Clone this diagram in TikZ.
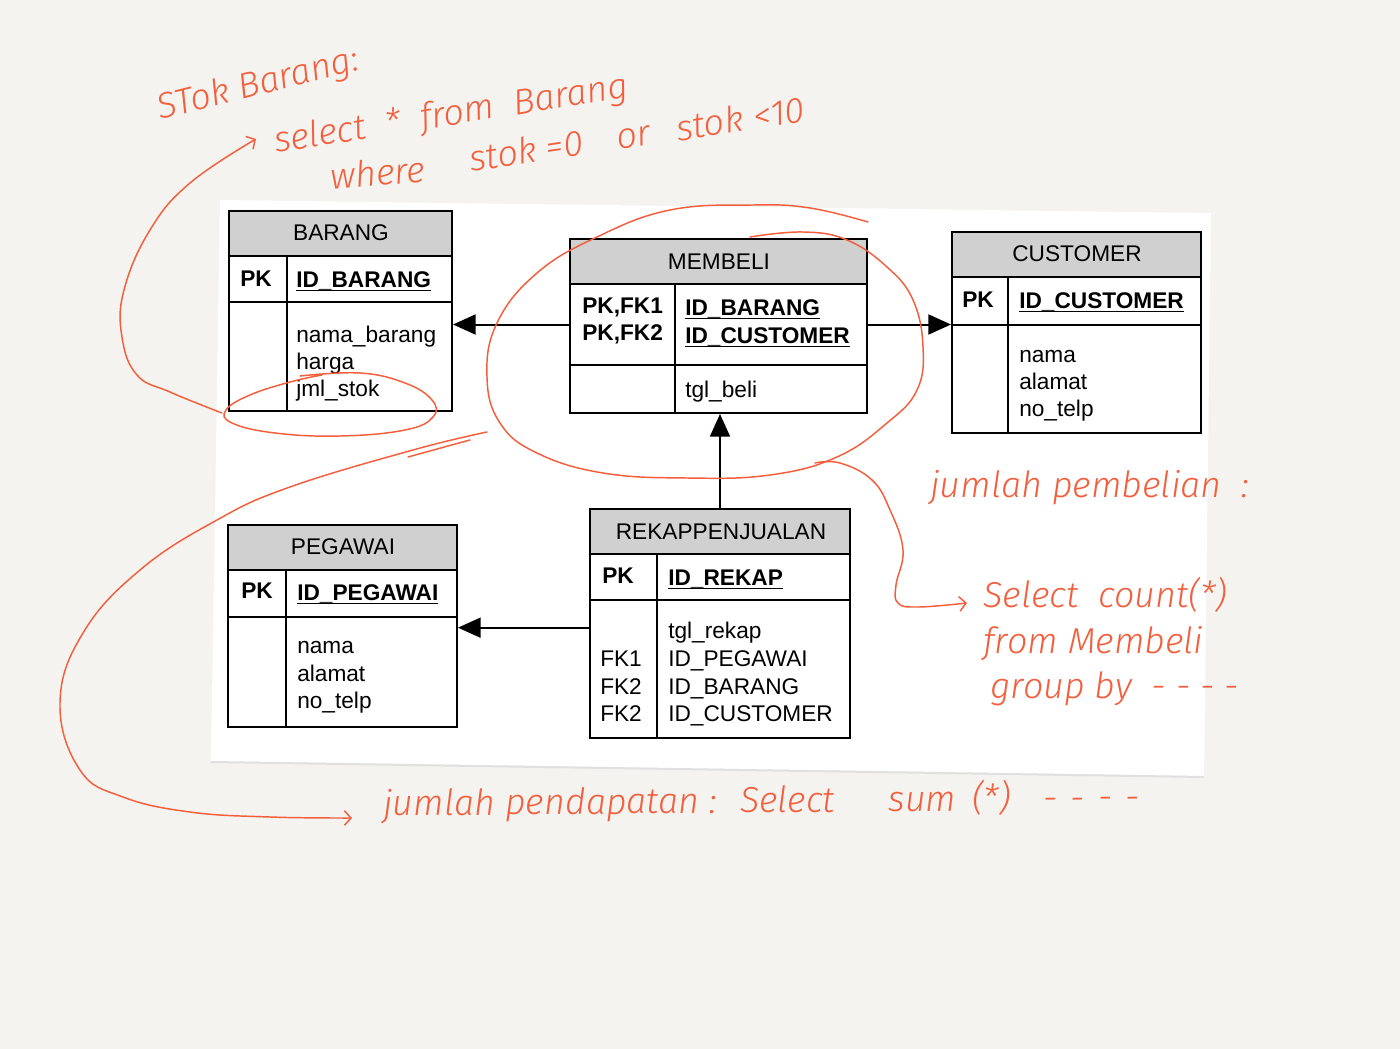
\documentclass[tikz,border=0pt]{standalone}
\usepackage{fontspec}
\setmainfont{Liberation Sans}
\newfontfamily\handfont{Fira Sans Light Italic}
\usetikzlibrary{arrows.meta,fit}

\definecolor{paperbg}{RGB}{244,243,239}
\definecolor{hdrgray}{RGB}{208,208,208}
\definecolor{inkorange}{RGB}{243,94,60}

\newsavebox\keybox
\newcommand{\keyattr}[1]{\sbox\keybox{\bfseries #1}\rlap{\rule[-3.3pt]{\wd\keybox}{1.4pt}}\usebox\keybox}

\tikzset{
  tbl/.style={draw, line width=1.5pt, inner sep=0pt},
  hdr/.style={tbl, fill=hdrgray},
  title/.style={inner sep=0pt, font=\fontsize{17}{20}\selectfont},
  fld/.style={anchor=base west, inner sep=0pt, font=\fontsize{17}{20}\selectfont},
  keyfld/.style={fld, font=\fontsize{17}{20}\selectfont\bfseries},
  fk/.style={line width=1.5pt, -{Triangle[length=17pt,width=15pt]}},
  ink/.style={draw=inkorange, line width=1.1pt, line cap=round, line join=round},
  inkarrow/.style={ink, -{Straight Barb[length=5pt,width=11pt]}},
  note/.style={anchor=base west, inner sep=0pt, text=inkorange, font=\handfont\fontsize{27}{30}\selectfont},
}

\begin{document}
\begin{tikzpicture}[x=0.75pt,y=0.75pt,yscale=-1,xscale=1]
\useasboundingbox (0,0) rectangle (1400,1049);
\fill[paperbg] (0,0) rectangle (1400,1049);

%Shape: Paper
\fill[white] (220,200) -- (1211,213) -- (1204,776) -- (211,761) -- cycle;
\draw[black!12, line width=1.5pt] (211,762) -- (1204,777);

%Table: BARANG
\node[hdr, fit={(229,211) (452,256)}] (barang-hdr) {};
\node[tbl, fit={(229,256) (452,302)}] (barang-key) {};
\node[tbl, fit={(229,302) (452,411)}] (barang-attr) {};
\draw[line width=1.5pt] (287,256) -- (287,411);
% Text Node
\node[title] (barang-title) at (341,233) {BARANG};
\node[keyfld] (barang-pk) at (240,286) {PK};
\node[fld] (barang-id) at (296,287) {\keyattr{ID\_BARANG}};
\node[fld] (barang-nama) at (296,342) {nama\_barang};
\node[fld] (barang-harga) at (296,369) {harga};
\node[fld] (barang-stok) at (296,396) {jml\_stok};

%Table: MEMBELI
\node[hdr, fit={(570,239) (867,284)}] (membeli-hdr) {};
\node[tbl, fit={(570,284) (867,365)}] (membeli-key) {};
\node[tbl, fit={(570,365) (867,413)}] (membeli-attr) {};
\draw[line width=1.5pt] (675,284) -- (675,413);
% Text Node
\node[title] (membeli-title) at (719,262) {MEMBELI};
\node[keyfld] (membeli-fk1) at (582,313) {PK,FK1};
\node[keyfld] (membeli-fk2) at (582,340) {PK,FK2};
\node[fld] (membeli-id1) at (685,315) {\keyattr{ID\_BARANG}};
\node[fld] (membeli-id2) at (685,343) {\keyattr{ID\_CUSTOMER}};
\node[fld] (membeli-tgl) at (685,397) {tgl\_beli};

%Table: CUSTOMER
\node[hdr, fit={(952,232) (1201,277)}] (customer-hdr) {};
\node[tbl, fit={(952,277) (1201,325)}] (customer-key) {};
\node[tbl, fit={(952,325) (1201,433)}] (customer-attr) {};
\draw[line width=1.5pt] (1008,277) -- (1008,433);
% Text Node
\node[title] (customer-title) at (1077,254) {CUSTOMER};
\node[keyfld] (customer-pk) at (962,307) {PK};
\node[fld] (customer-id) at (1019,308) {\keyattr{ID\_CUSTOMER}};
\node[fld] (customer-nama) at (1019,362) {nama};
\node[fld] (customer-alamat) at (1019,389) {alamat};
\node[fld] (customer-telp) at (1019,416) {no\_telp};

%Table: REKAPPENJUALAN
\node[hdr, fit={(590,509) (850,554)}] (rekap-hdr) {};
\node[tbl, fit={(590,554) (850,600)}] (rekap-key) {};
\node[tbl, fit={(590,600) (850,738)}] (rekap-attr) {};
\draw[line width=1.5pt] (657,554) -- (657,738);
% Text Node
\node[title] (rekap-title) at (721,532) {REKAPPENJUALAN};
\node[keyfld] (rekap-pk) at (602,583) {PK};
\node[fld] (rekap-id) at (668,585) {\keyattr{ID\_REKAP}};
\node[fld] (rekap-tgl) at (668,638) {tgl\_rekap};
\node[fld] (rekap-peg) at (668,666) {ID\_PEGAWAI};
\node[fld] (rekap-brg) at (668,694) {ID\_BARANG};
\node[fld] (rekap-cus) at (668,721) {ID\_CUSTOMER};
\node[fld] (rekap-fk1) at (600,666) {FK1};
\node[fld] (rekap-fk2) at (600,694) {FK2};
\node[fld] (rekap-fk3) at (600,721) {FK2};

%Table: PEGAWAI
\node[hdr, fit={(228,525) (457,570)}] (pegawai-hdr) {};
\node[tbl, fit={(228,570) (457,617)}] (pegawai-key) {};
\node[tbl, fit={(228,617) (457,727)}] (pegawai-attr) {};
\draw[line width=1.5pt] (286,570) -- (286,727);
% Text Node
\node[title] (pegawai-title) at (343,547) {PEGAWAI};
\node[keyfld] (pegawai-pk) at (241,598) {PK};
\node[fld] (pegawai-id) at (297,600) {\keyattr{ID\_PEGAWAI}};
\node[fld] (pegawai-nama) at (297,653) {nama};
\node[fld] (pegawai-alamat) at (297,681) {alamat};
\node[fld] (pegawai-telp) at (297,708) {no\_telp};

%Relations
\draw[fk] (membeli-key.west) -- (membeli-key.west -| barang-attr.east);
\draw[fk] (membeli-key.east) -- (membeli-key.east -| customer-attr.west);
\draw[fk] (rekap-hdr.north) -- (rekap-hdr.north |- membeli-attr.south);
\draw[fk] ([yshift=-31pt]rekap-attr.west) -- ([yshift=-31pt]rekap-attr.west -| pegawai-attr.east);

%Sketch: ring round jml_stok
\draw[ink] plot[smooth, tension=0.7] coordinates {(300,376) (360,373) (405,383) (432,400) (433,417) (405,430) (340,436) (275,433) (232,423) (226,410) (250,395) (290,382) (322,375)};
\draw[inkarrow] plot[smooth, tension=0.7] coordinates {(222,413) (170,392) (137,375) (122,337) (124,290) (150,230) (190,183) (256,139)};

%Sketch: ring round MEMBELI
\draw[ink] plot[smooth, tension=0.7] coordinates {(868,222) (810,208) (753,205) (670,210) (597,237) (537,273) (497,323) (487,377) (500,423) (537,453) (603,473) (687,478) (770,475) (837,457) (887,423) (917,390) (923,347) (913,300) (887,267) (847,240) (803,232) (750,237)};
\draw[inkarrow] plot[smooth, tension=0.7] coordinates {(815,463) (840,463) (872,480) (890,510) (903,550) (896,585) (898,603) (918,607) (967,603)};

%Sketch: long loop to the bottom line
\draw[inkarrow] plot[smooth, tension=0.7] coordinates {(487,432) (413,450) (290,487) (217,520) (140,570) (83,633) (60,703) (80,770) (123,797) (190,812) (270,817) (352,818)};
\draw[ink] (408,457) -- (448,446) -- (470,440);

% Text Node
\node[note, rotate=14] (note-stok) at (160,120) {STok Barang:};
\node[note, rotate=9] (note-select) at (276,153) {select \ * \ from \ Barang};
\node[note, rotate=5] (note-where) at (331,190) {where};
\node[note, rotate=8.5] (note-cond) at (471,172) {stok =0 \hspace{18pt}or\hspace{20pt}stok\hspace{8pt}<10};
\node[note] (note-beli) at (930,497) {jumlah pembelian \ :};
\node[note] (note-count) at (983,607) {Select \ count(*)};
\node[note] (note-from) at (983,653) {from Membeli};
\node[note] (note-group) at (990,698) {group by \ - - - -};
\node[note, rotate=0.5] (note-dapat) at (383,816) {jumlah pendapatan : \ Select\hspace{40pt}sum\hspace{12pt}(*)\hspace{24pt}-\hspace{10pt}-\hspace{10pt}-\hspace{10pt}-};

\end{tikzpicture}
\end{document}
